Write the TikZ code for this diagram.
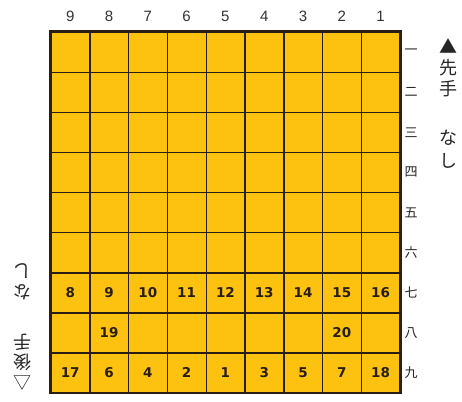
\documentclass[tikz,border=0pt]{standalone}
\usepackage{fontspec}
\setmainfont{DejaVu Sans}
\newfontfamily\jp{Noto Sans CJK JP}
\newfontfamily\numfont{Liberation Sans}
\definecolor{boardfill}{RGB}{253,194,16}
\definecolor{gridline}{RGB}{40,30,20}
\begin{document}
\begin{tikzpicture}[x=1pt,y=-1pt,
  cellspot/.style={minimum width=38.8pt,minimum height=40.1pt,inner sep=0pt,anchor=center},
  gridstroke/.style={draw=gridline,line width=1.4pt},
  cellnum/.style={font=\bfseries\fontsize{13.5}{13.5}\selectfont,text=gridline},
  colnum/.style={font=\numfont\fontsize{15}{15}\selectfont,text=black!80},
  rowlab/.style={font=\jp\fontsize{13}{13}\selectfont,text=black!85},
  sidech/.style={font=\jp\fontsize{18}{18}\selectfont,text=black!85,inner sep=0pt}]
\useasboundingbox (0,0) rectangle (462,401);
\fill[white] (0,0) rectangle (462,401);
% board
\node[fill=boardfill,minimum width=349.2pt,minimum height=360.9pt,inner sep=0pt] (board) at (225.4,212.45) {};
\foreach \c in {1,...,9}{
  \foreach \r in {1,...,9}{
    \node[cellspot] (c\c r\r) at ({400-(\c-0.5)*38.8},{32+(\r-0.5)*40.1}) {};
  }
}
\foreach \c in {2,...,9}{
  \draw[gridstroke] (c\c r1.north east) -- (c\c r9.south east);
}
\foreach \r in {1,...,8}{
  \draw[gridstroke] (c9r\r.south west) -- (c1r\r.south east);
}
\draw[draw=gridline,line width=2.6pt] (board.north west) rectangle (board.south east);
% column numbers
\foreach \c in {1,...,9}{
  \node[colnum] (col\c) at ({400-(\c-0.5)*38.8},16) {\c};
}
% row labels
\foreach \r/\k in {1/一,2/二,3/三,4/四,5/五,6/六,7/七,8/八,9/九}{
  \node[rowlab] (row\r) at (411,{32+(\r-0.5)*40.1}) {\k};
}
% right side text
\node[sidech] (bt) at (448,46) {▲};
\node[sidech] (sen) at (448,68) {先};
\node[sidech] (te) at (448,89) {手};
\node[sidech] (na) at (448,138) {な};
\node[sidech] (shi) at (448,161) {し};
% left side text (upside down)
\node[sidech,rotate=180] (lshi) at (22,271) {し};
\node[sidech,rotate=180] (lna) at (22,292) {な};
\node[sidech,rotate=180] (lte) at (22,342) {手};
\node[sidech,rotate=180] (lgo) at (22,362) {後};
\node[sidech,rotate=180] (lbt) at (22,383) {△};
% numbers in cells
\foreach \c/\r/\n in {9/7/8,8/7/9,7/7/10,6/7/11,5/7/12,4/7/13,3/7/14,2/7/15,1/7/16,
  8/8/19,2/8/20,
  9/9/17,8/9/6,7/9/4,6/9/2,5/9/1,4/9/3,3/9/5,2/9/7,1/9/18}{
  \node[cellnum] at (c\c r\r) {\n};
}
\end{tikzpicture}
\end{document}
